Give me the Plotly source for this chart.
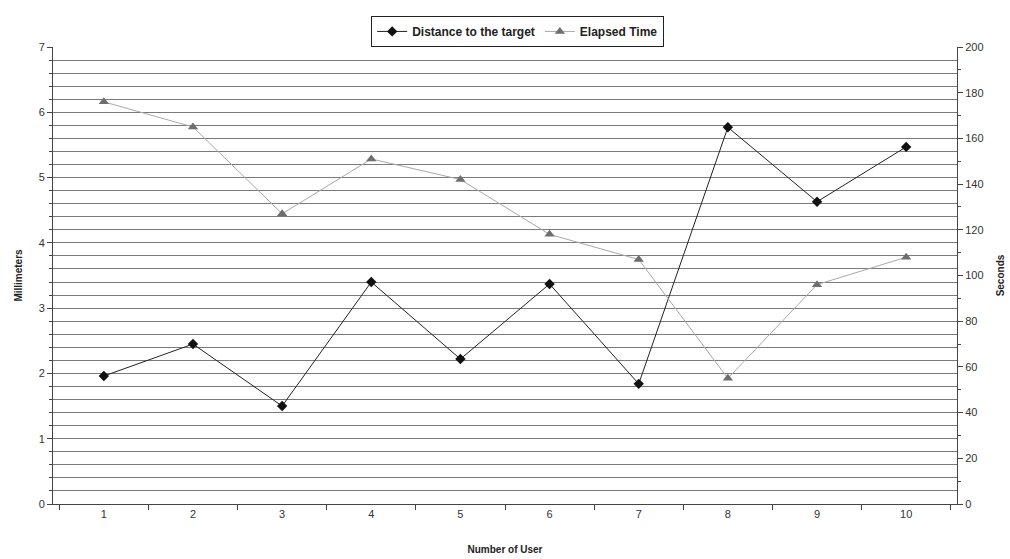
import plotly.graph_objects as go

# Per-user measurements
users = ["1", "2", "3", "4", "5", "6", "7", "8", "9", "10"]
distance_mm = [1.96, 2.45, 1.50, 3.40, 2.22, 3.37, 1.84, 5.77, 4.63, 5.47]
elapsed_s = [176, 165, 127, 151, 142, 118, 107, 55, 96, 108]

left_ticks = [0, 1, 2, 3, 4, 5, 6, 7]
right_ticks = [0, 20, 40, 60, 80, 100, 120, 140, 160, 180, 200]

FONT = "Liberation Sans"
GRID = "#7a7a7a"
TEXT = "#222222"

fig = go.Figure()

fig.add_trace(go.Scatter(
    x=users, y=distance_mm, name="Distance to the target",
    mode="lines+markers",
    line=dict(color="#222222", width=1),
    marker=dict(symbol="diamond", size=8, color="#111111"),
    yaxis="y",
))

fig.add_trace(go.Scatter(
    x=users, y=elapsed_s, name="Elapsed Time",
    mode="lines+markers",
    line=dict(color="#a8a8a8", width=1),
    marker=dict(symbol="triangle-up", size=9, color="#6e6e6e"),
    yaxis="y2",
))

fig.update_layout(
    width=1010, height=559,
    margin=dict(l=53, r=53, t=47, b=55, autoexpand=False),
    paper_bgcolor="white", plot_bgcolor="white",
    font=dict(family=FONT, size=10, color="#333333"),
    showlegend=True,
    legend=dict(
        orientation="h", x=0.514, xanchor="center", y=1.068, yanchor="top",
        bordercolor="#222222", borderwidth=1, bgcolor="white",
        font=dict(family=FONT, size=12, color=TEXT, weight="bold"),
        itemwidth=30, tracegroupgap=0,
    ),
    xaxis=dict(
        type="category", tickson="boundaries", ticks="outside", ticklen=5,
        tickcolor="#444444", showline=True, linecolor="#444444", mirror=False,
        showgrid=False, zeroline=False, automargin=False,
        title=dict(text="<b>Number of User</b>", font=dict(size=10, color=TEXT), standoff=26),
        tickfont=dict(size=11, color="#333333"),
    ),
    yaxis=dict(
        range=[0, 7], tickvals=left_ticks, ticks="outside", ticklen=5,
        tickcolor="#444444", showline=True, linecolor="#444444",
        showgrid=True, gridcolor=GRID, gridwidth=1, zeroline=False,
        automargin=False,
        minor=dict(dtick=0.2, showgrid=True, gridcolor=GRID, gridwidth=1,
                   ticks="outside", ticklen=3, tickcolor="#444444"),
        title=dict(text="<b>Millimeters</b>", font=dict(size=10, color=TEXT), standoff=14),
        tickfont=dict(size=11, color="#333333"),
    ),
    yaxis2=dict(
        range=[0, 200], tickvals=right_ticks, overlaying="y", side="right",
        ticks="outside", ticklen=5, tickcolor="#444444", automargin=False,
        showline=True, linecolor="#444444", showgrid=False, zeroline=False,
        minor=dict(dtick=10, ticks="outside", ticklen=3, tickcolor="#444444"),
        title=dict(text="<b>Seconds</b>", font=dict(size=10, color=TEXT), standoff=14),
        tickfont=dict(size=11, color="#333333"),
    ),
)

fig.write_html("out.html")
